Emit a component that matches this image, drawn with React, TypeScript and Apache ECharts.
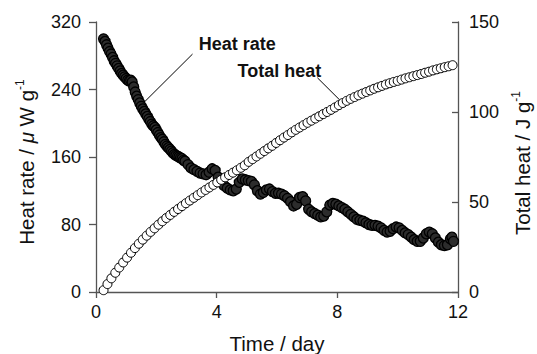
import React, { useEffect, useRef } from "react";
import * as echarts from "echarts";

// Heat rate (µW g-1) vs time (day)
const heatRateDays = [
  0.25, 0.3, 0.35, 0.4, 0.45, 0.5, 0.55, 0.6, 0.65, 0.7,
  0.75, 0.8, 0.85, 0.9, 0.95, 1.0, 1.05, 1.1, 1.15, 1.2,
  1.25, 1.3, 1.35, 1.4, 1.45, 1.5, 1.55, 1.6, 1.65, 1.7,
  1.75, 1.8, 1.85, 1.9, 1.95, 2.0, 2.05, 2.1, 2.15, 2.2,
  2.25, 2.3, 2.35, 2.4, 2.45, 2.5, 2.55, 2.6, 2.65, 2.7,
  2.75, 2.8, 2.85, 2.9, 2.95, 3.05, 3.15,
  3.25, 3.35, 3.45, 3.55, 3.65, 3.75, 3.85, 3.95, 4.05, 4.15,
  4.25, 4.35, 4.45, 4.55, 4.65, 4.75, 4.85, 4.95, 5.05, 5.15,
  5.25, 5.35, 5.45, 5.55, 5.65, 5.75, 5.85, 5.95, 6.05, 6.15,
  6.25, 6.35, 6.45, 6.55, 6.65, 6.75, 6.85, 6.95, 7.05, 7.15,
  7.25, 7.35, 7.45, 7.55, 7.65, 7.75, 7.85, 7.95, 8.05, 8.15,
  8.25, 8.35, 8.45, 8.55, 8.65, 8.75, 8.85, 8.95, 9.05, 9.15,
  9.25, 9.35, 9.45, 9.55, 9.65, 9.75, 9.85, 9.95, 10.05, 10.15,
  10.25, 10.35, 10.45, 10.55, 10.65, 10.75, 10.85, 10.95, 11.05, 11.15,
  11.25, 11.35, 11.45, 11.55, 11.65, 11.75, 11.8, 11.85,
];
const heatRateValues = [
  300, 297, 293, 289, 285, 282, 278, 274, 271, 268,
  265, 262, 259, 257, 255, 253, 251, 250, 251, 249,
  243, 237, 232, 228, 224, 220, 217, 214, 211, 208,
  205, 202, 199, 197, 195, 192, 189, 186, 183, 181,
  178, 175, 173, 171, 169, 167, 165, 163, 162, 161,
  160, 159, 158, 156, 155, 151, 147,
  145, 143, 141, 140, 139, 142, 146, 144, 136, 130,
  126, 123, 121, 120, 122, 130, 134, 133, 132, 131,
  127, 120, 116, 118, 121, 122, 119, 117, 117, 116,
  114, 111, 107, 102, 104, 112, 113, 108, 98, 95,
  93, 91, 89, 90, 95, 103, 105, 104, 102, 100,
  98, 95, 92, 89, 86, 85, 84, 82, 80, 79,
  79, 78, 76, 73, 71, 72, 75, 77, 76, 73,
  70, 68, 65, 62, 60, 60, 64, 69, 71, 69,
  64, 59, 56, 55, 56, 63, 65, 60,
];

// Total heat (J g-1) vs time (day)
const totalHeatDays = [
  0.25, 0.38, 0.51, 0.64, 0.77, 0.9, 1.03, 1.16, 1.29, 1.42,
  1.55, 1.68, 1.81, 1.94, 2.07, 2.2, 2.33, 2.46, 2.59, 2.72,
  2.85, 2.98, 3.11, 3.24, 3.37, 3.5, 3.63, 3.76, 3.89, 4.02,
  4.15, 4.28, 4.41, 4.54, 4.67, 4.8, 4.93, 5.06, 5.19, 5.32,
  5.45, 5.58, 5.71, 5.84, 5.97, 6.1, 6.23, 6.36, 6.49, 6.62,
  6.75, 6.88, 7.01, 7.14, 7.27, 7.4, 7.53, 7.66, 7.79, 7.92,
  8.05, 8.18, 8.31, 8.44, 8.57, 8.7, 8.83, 8.96, 9.09, 9.22,
  9.35, 9.48, 9.61, 9.74, 9.87, 10.0, 10.13, 10.26, 10.39, 10.52,
  10.65, 10.78, 10.91, 11.04, 11.17, 11.3, 11.43, 11.56, 11.69, 11.82,
];
const totalHeatValues = [
  1.0, 4.4, 7.6, 10.7, 13.6, 16.4, 19.1, 21.8, 24.4, 26.8,
  29.1, 31.3, 33.4, 35.4, 37.4, 39.3, 41.1, 42.8, 44.5, 46.1,
  47.7, 49.3, 50.8, 52.3, 53.8, 55.3, 56.7, 58.1, 59.5, 60.9,
  62.3, 63.7, 65.0, 66.3, 67.6, 69.0, 70.4, 72.3, 73.8, 75.3,
  76.8, 78.3, 79.8, 81.2, 82.8, 84.3, 85.8, 87.2, 88.7, 90.1,
  91.4, 92.7, 94.0, 95.2, 96.4, 97.6, 98.8, 100.0, 101.2, 102.5,
  103.8, 105.0, 106.2, 107.3, 108.3, 109.3, 110.2, 111.1, 112.0, 112.9,
  113.7, 114.5, 115.3, 116.0, 116.7, 117.3, 118.0, 118.7, 119.3, 119.9,
  120.5, 121.1, 121.8, 122.4, 123.1, 123.7, 124.3, 124.9, 125.4, 126.0,
];

// Axis ticks
const xTicks = [0, 4, 8, 12];
const heatRateTicks = [0, 80, 160, 240, 320];
const totalHeatTicks = [0, 50, 100, 150];

// Annotations (data coordinates)
const heatRateLabel = { text: "Heat rate", at: [4.68, 294] };
const heatRateLeader = [[3.2, 282], [1.57, 224]];
const totalHeatLabel = { text: "Total heat", at: [6.08, 123] };
const totalHeatLeader = [[7.34, 119], [8.18, 105]];

const FONT = "'Liberation Sans', Arial, Helvetica, sans-serif";
const AXIS_COLOR = "#555";
const TEXT_COLOR = "#111";

export default function App() {
  const ref = useRef<HTMLDivElement>(null);

  useEffect(() => {
    if (!ref.current) return;
    const chart = echarts.init(ref.current, null, { renderer: "svg" });

    const axisCommon = {
      type: "value" as const,
      axisLine: { show: true, lineStyle: { color: AXIS_COLOR, width: 1.3 } },
      splitLine: { show: false },
    };

    chart.setOption({
      animation: false,
      backgroundColor: "#ffffff",
      grid: { left: 96, right: 79, top: 22, bottom: 62, containLabel: false },
      xAxis: {
        ...axisCommon,
        min: xTicks[0],
        max: xTicks[xTicks.length - 1],
        interval: xTicks[1] - xTicks[0],
        axisTick: { show: true, length: 6, inside: false, lineStyle: { color: AXIS_COLOR, width: 1.3 } },
        axisLabel: { fontSize: 18, color: TEXT_COLOR, margin: 11, fontFamily: FONT },
      },
      yAxis: [
        {
          ...axisCommon,
          position: "left",
          min: heatRateTicks[0],
          max: heatRateTicks[heatRateTicks.length - 1],
          interval: heatRateTicks[1] - heatRateTicks[0],
          axisTick: { show: true, length: 7, inside: false, lineStyle: { color: AXIS_COLOR, width: 1.3 } },
          axisLabel: { fontSize: 18, color: TEXT_COLOR, margin: 15, fontFamily: FONT },
        },
        {
          ...axisCommon,
          position: "right",
          min: totalHeatTicks[0],
          max: totalHeatTicks[totalHeatTicks.length - 1],
          interval: totalHeatTicks[1] - totalHeatTicks[0],
          axisTick: { show: true, length: 6, inside: true, lineStyle: { color: AXIS_COLOR, width: 1.3 } },
          axisLabel: { fontSize: 18, color: TEXT_COLOR, margin: 11, fontFamily: FONT },
        },
      ],
      series: [
        {
          name: "Heat rate",
          type: "scatter",
          xAxisIndex: 0,
          yAxisIndex: 0,
          symbol: "circle",
          symbolSize: 10,
          itemStyle: { color: "#2c2c2c", borderColor: "#000", borderWidth: 1.3, opacity: 1 },
          data: heatRateDays.map((d, i) => [d, heatRateValues[i]]),
          z: 2,
        },
        {
          name: "Total heat",
          type: "scatter",
          xAxisIndex: 0,
          yAxisIndex: 1,
          symbol: "circle",
          symbolSize: 9,
          itemStyle: { color: "#ffffff", borderColor: "#000", borderWidth: 1, opacity: 1 },
          data: totalHeatDays.map((d, i) => [d, totalHeatValues[i]]),
          z: 3,
        },
      ],
    });

    const px0 = (p: number[]) => chart.convertToPixel({ seriesIndex: 0 }, p) as number[];
    const px1 = (p: number[]) => chart.convertToPixel({ seriesIndex: 1 }, p) as number[];

    const hrL = px0(heatRateLabel.at);
    const hrA = px0(heatRateLeader[0]);
    const hrB = px0(heatRateLeader[1]);
    const thL = px1(totalHeatLabel.at);
    const thA = px1(totalHeatLeader[0]);
    const thB = px1(totalHeatLeader[1]);

    const titleRich = {
      n: { fontSize: 20.5, fontFamily: FONT, fill: TEXT_COLOR, color: TEXT_COLOR, lineHeight: 24 },
      i: { fontSize: 20.5, fontFamily: FONT, fontStyle: "italic", fill: TEXT_COLOR, color: TEXT_COLOR, lineHeight: 24 },
      s: { fontSize: 12, fontFamily: FONT, fill: TEXT_COLOR, color: TEXT_COLOR, verticalAlign: "top", lineHeight: 14 },
    };

    const textStyle = (extra: any) => ({
      fill: TEXT_COLOR,
      fontFamily: FONT,
      align: "center",
      verticalAlign: "middle",
      textAlign: "center",
      textVerticalAlign: "middle",
      ...extra,
    });

    chart.setOption({
      graphic: [
        {
          type: "text",
          x: 277,
          y: 343,
          style: textStyle({ text: "Time / day", fontSize: 20.5 }),
        },
        {
          type: "text",
          x: 26,
          y: 162,
          rotation: Math.PI / 2,
          style: textStyle({ text: "{n|Heat rate / }{i|μ}{n| W g}{s|-1}", rich: titleRich, fontSize: 20.5 }),
        },
        {
          type: "text",
          x: 522,
          y: 163,
          rotation: Math.PI / 2,
          style: textStyle({ text: "{n|Total heat / J g}{s|-1}", rich: titleRich, fontSize: 20.5 }),
        },
        {
          type: "text",
          x: hrL[0],
          y: hrL[1],
          style: textStyle({ text: heatRateLabel.text, fontSize: 18, fontWeight: "bold" }),
        },
        {
          type: "text",
          x: thL[0],
          y: thL[1],
          style: textStyle({ text: totalHeatLabel.text, fontSize: 18, fontWeight: "bold" }),
        },
        {
          type: "line",
          shape: { x1: hrA[0], y1: hrA[1], x2: hrB[0], y2: hrB[1] },
          style: { stroke: "#000", lineWidth: 1 },
        },
        {
          type: "line",
          shape: { x1: thA[0], y1: thA[1], x2: thB[0], y2: thB[1] },
          style: { stroke: "#000", lineWidth: 1 },
        },
      ],
    });

    return () => chart.dispose();
  }, []);

  return (
    <div
      ref={ref}
      style={{ position: "fixed", left: 0, top: 0, width: 537, height: 354 }}
    />
  );
}
